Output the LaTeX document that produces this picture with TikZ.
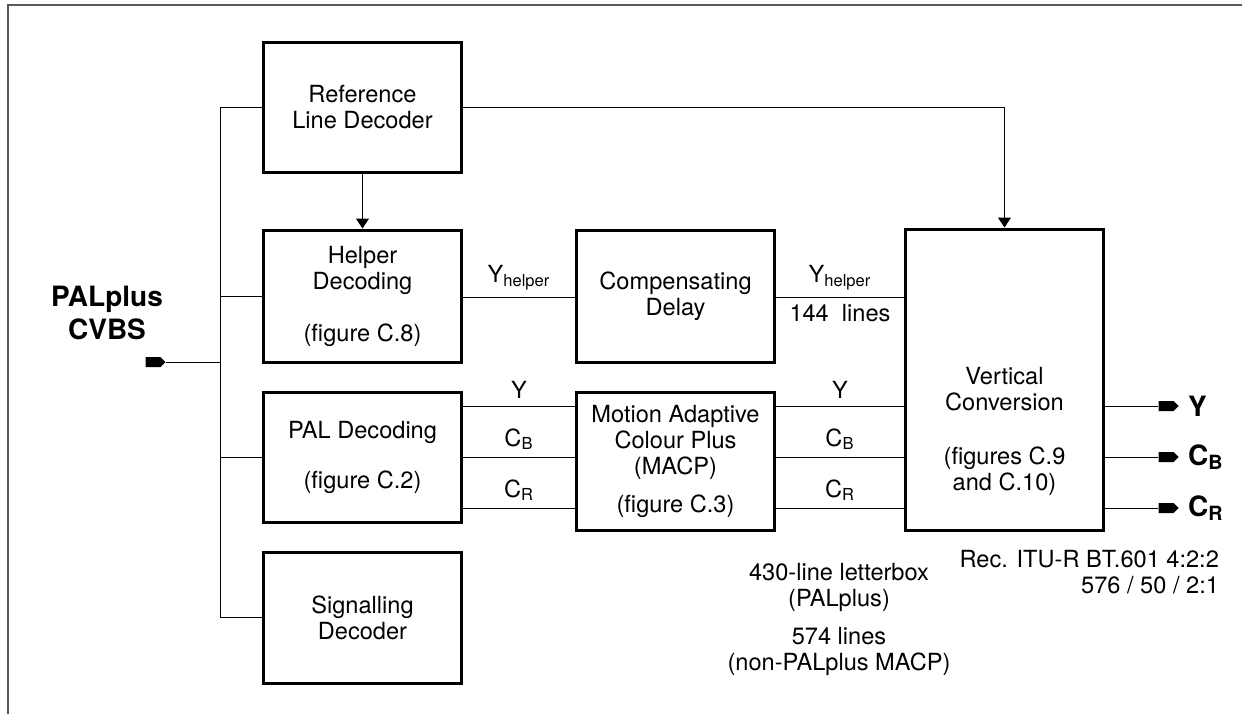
\documentclass[tikz,border=0pt]{standalone}
\usepackage{fontspec}
\setmainfont{TeX Gyre Heros}
\usetikzlibrary{positioning}
\usetikzlibrary{shapes.symbols}
\usetikzlibrary{arrows.meta}

\begin{document}
\begin{tikzpicture}[x=0.5pt, y=-0.5pt,
    font=\fontsize{11.8}{13}\selectfont,
    blk/.style={draw, line width=1.5pt, align=center, inner sep=0pt, minimum width=99pt},
    wire/.style={line width=0.5pt},
    tip/.style={-{Triangle[width=6.5pt,length=5pt]}},
    tag/.style={signal, signal to=east, fill=black, draw=none, inner sep=0pt,
        minimum width=10pt, minimum height=5pt},
    big/.style={font=\fontsize{14}{16.5}\selectfont\bfseries}]
    \useasboundingbox (0,0) rectangle (1242,714);
    % Frame
    \draw[black!65, line width=0.75pt] (8,714) -- (8,5) -- (1242,5);

    % Blocks
    \node[blk, minimum height=65pt] (ref) at (362.5,107) {Reference\\Line Decoder};
    \node[blk, minimum height=66pt] (helper) at (362.5,296) {Helper\\Decoding\\[13pt](figure C.8)};
    \node[blk, minimum height=66pt] (comp) at (675.5,296) {Compensating\\Delay};
    \node[blk, minimum height=65pt] (pal) at (362.5,457) {PAL Decoding\\[12pt](figure C.2)};
    \node[blk, minimum height=69pt] (macp) at (675.5,461) {Motion Adaptive\\Colour Plus\\(MACP)\\[6pt](figure C.3)};
    \node[blk, minimum height=150.5pt] (vc) at (1004.5,379.5) {};
    \node[align=center] (vcText) at (1004.5,431) {Vertical\\Conversion\\[14pt](figures C.9\\and C.10)};
    \node[blk, minimum height=65.5pt] (sig) at (362.5,617.5) {Signalling\\Decoder};

    % Input
    \node[big, align=center] (cvbs) at (107,313) {PALplus\\CVBS};
    \node[tag] (inTag) at (153,362) {};
    \coordinate (busTop) at (220,107);
    \coordinate (busBot) at (220,617.5);
    \draw[wire] (busTop) -- (busBot);
    \draw[wire] (inTag.east) -- (inTag.east -| busTop);
    \draw[wire] (busTop) -- (ref.west);
    \draw[wire] (busTop |- helper.west) -- (helper.west);
    \draw[wire] (busTop |- pal.west) -- (pal.west);
    \draw[wire] (busBot) -- (sig.west);

    % Reference line paths
    \draw[wire, tip] (ref.south) -- (helper.north);
    \draw[wire, tip] (ref.east) -| (vc.north);

    % Helper path
    \coordinate (lnH) at (0,297);
    \draw[wire] (helper.east |- lnH) -- node[above] (yhA) {Y\textsubscript{helper}} (comp.west |- lnH);
    \draw[wire] (comp.east |- lnH) -- node[above] (yhB) {Y\textsubscript{helper}}
        node[below] (lines) {144\ \ lines} (vc.west |- lnH);

    % Y, CB, CR
    \coordinate (lnY) at (0,406);
    \coordinate (lnB) at (0,457);
    \coordinate (lnR) at (0,508);
    \draw[wire] (pal.east |- lnY) -- node[above] (yA) {Y} (macp.west |- lnY);
    \draw[wire] (pal.east |- lnB) -- node[above] (cbA) {C\textsubscript{B}} (macp.west |- lnB);
    \draw[wire] (pal.east |- lnR) -- node[above] (crA) {C\textsubscript{R}} (macp.west |- lnR);
    \draw[wire] (macp.east |- lnY) -- node[above] (yB) {Y} (vc.west |- lnY);
    \draw[wire] (macp.east |- lnB) -- node[above] (cbB) {C\textsubscript{B}} (vc.west |- lnB);
    \draw[wire] (macp.east |- lnR) -- node[above] (crB) {C\textsubscript{R}} (vc.west |- lnR);

    % Outputs
    \node[tag] (outY) at (1166,406) {};
    \node[tag] (outB) at (1166,457) {};
    \node[tag] (outR) at (1166,508) {};
    \draw[wire] (vc.east |- outY) -- (outY.west);
    \draw[wire] (vc.east |- outB) -- (outB.west);
    \draw[wire] (vc.east |- outR) -- (outR.west);
    \node[big, right=1pt of outY] (labY) {Y};
    \node[big, right=1pt of outB] (labB) {C\textsubscript{B}};
    \node[big, right=1pt of outR] (labR) {C\textsubscript{R}};

    % Notes
    \node[align=center] (lbox) at (839,587.5) {430-line letterbox\\(PALplus)};
    \node[align=center] (full) at (839,651.5) {574 lines\\(non-PALplus MACP)};
    \node[align=right, anchor=east] (rec) at (1226,572.5) {Rec. ITU-R BT.601 4:2:2\\576 / 50 / 2:1};
\end{tikzpicture}
\end{document}
